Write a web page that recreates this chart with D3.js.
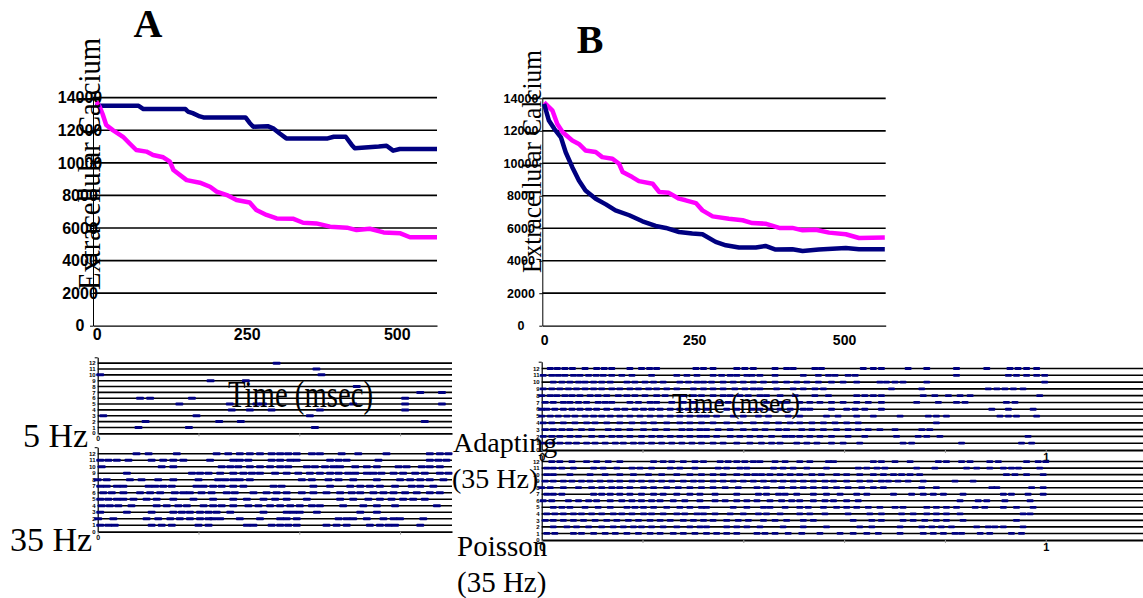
<!DOCTYPE html>
<html>
<head>
<meta charset="utf-8">
<script src="https://cdn.jsdelivr.net/npm/d3@7/dist/d3.min.js"></script>
<style>
  body { margin: 0; background: #fff; }
</style>
</head>
<body>
<div id="fig"></div>
<script>
// extracellular calcium traces (time in msec)
var yTicks = [0, 2000, 4000, 6000, 8000, 10000, 12000, 14000];
var xTicks = [0, 250, 500];

var aNavyT = [0,3,70,78,148,152,160,172,178,248,255,261,285,295,305,316,385,395,415,425,430,470,483,494,505,567];
var aNavyV = [13650,13500,13500,13300,13300,13150,13050,12850,12790,12790,12450,12220,12250,12100,11800,11500,11500,11600,11600,11100,10900,11000,11050,10750,10850,10850];
var aPinkT = [0,5,10,16,27,44,55,66,83,94,111,122,128,150,172,189,200,217,233,255,266,283,300,328,344,366,389,417,433,455,478,506,522,567];
var aPinkV = [13750,13450,13000,12320,12010,11600,11190,10790,10690,10480,10340,10070,9560,8940,8780,8530,8230,8020,7720,7570,7100,6800,6590,6560,6320,6280,6080,6020,5870,5950,5730,5670,5430,5430];

var bNavyT = [0,8,17,28,36,47,58,69,86,103,119,142,164,186,203,225,247,264,286,303,325,353,369,386,414,431,458,503,525,568];
var bNavyV = [13650,12630,12120,11600,10680,9760,8940,8330,7820,7470,7100,6800,6430,6140,6020,5770,5670,5630,5160,4950,4810,4810,4910,4690,4710,4600,4690,4790,4710,4710];
var bPinkT = [0,14,22,31,47,58,69,86,97,114,125,131,147,158,181,192,208,225,236,253,264,281,308,331,347,369,392,414,431,453,475,503,525,568];
var bPinkV = [13750,13240,12420,11910,11400,11190,10790,10690,10380,10280,9970,9460,9150,8900,8740,8230,8180,7820,7720,7550,7100,6730,6590,6490,6320,6280,6020,6020,5870,5910,5730,5630,5400,5430];

// rasters: spike times (msec), first list = neuron 1 ... last = neuron 12
var rasterRows = [0,1,2,3,4,5,6,7,8,9,10,11,12];
var rasterXTicks = [0, 200, 400, 600, 800, 1000];

var rast5Hz = [
  [81,181,431],
  [95,241,284,649],
  [11,196,421],
  [266,302,345,441,610],
  [162,262,315,328,507,610,683],
  [84,104,187,610],
  [640,683],
  [514],
  [224,294],
  [5,444],
  [434],
  [355]
];

var rast35Hz = [
  [5,21,34,107,127,147,200,220,296,309,345,362,378,395,454,474,494,540,560,577,590,640],
  [1,31,97,120,144,163,183,203,220,229,243,282,322,362,375,395,478,494,507,534,567,587,600,646],
  [5,58,107,150,167,183,203,220,236,263,329,375,388,401,435,521,554],
  [8,24,41,67,117,137,160,177,210,229,246,269,299,319,342,362,382,401,425,441,487,527,554,590,673],
  [5,21,38,51,71,97,117,150,190,229,269,296,329,352,375,415,481,507,537,560,583,606,626,649],
  [11,28,51,84,104,124,153,170,183,206,226,256,272,309,335,355,375,405,428,454,481,504,521,547,567,587,610,633,659,679],
  [5,18,38,51,101,114,130,147,196,210,229,246,269,289,349,365,428,461,501,521,540,560,590,623,640,666],
  [0,18,64,87,120,150,200,239,253,269,282,302,405,425,458,478,507,554,600,620,640,659,686],
  [58,187,203,220,243,269,289,306,322,352,375,398,421,441,461,478,497,511,534,547,563,587,606,630,649,679,696],
  [8,127,150,246,263,279,302,322,342,362,378,415,431,451,468,481,511,534,554,597,613,643,659,679],
  [5,21,38,61,107,130,150,170,223,269,282,299,345,362,382,395,461,478,494,557,659,676,692],
  [77,101,157,236,259,282,302,322,345,362,378,395,425,441,484,517,573,659,679,696]
];

var rastAdapt = [
  [3,20,36,53,69,89,106,126,146,162,182,198,218,238,258,278,298,317,340,360,387,413,436,456,473,506,526,546,575,598,631,717,734,833,952,972],
  [3,20,36,56,73,99,119,139,155,175,198,218,235,255,274,294,314,327,347,374,393,413,433,456,483,496,512,532,552,575,608,641,704,747,764,790,965],
  [7,23,40,56,79,99,132,152,175,202,225,248,278,294,314,327,350,374,400,423,443,470,486,516,536,559,585,608,628,648,671,701,754,770],
  [3,20,43,66,89,106,129,155,179,202,222,248,274,294,317,340,367,393,420,446,470,493,512,536,559,582,605,628,783],
  [0,17,33,50,66,86,103,119,136,155,175,195,215,235,255,274,294,314,327,347,380,400,430,450,489,512,565,588,625,658,711,767,783,803,909,926,942,982],
  [0,10,26,43,60,76,93,109,129,149,165,185,202,218,235,255,274,291,308,327,367,387,417,433,453,473,493,519,532,575,605,622,641,674,893,926,975],
  [7,23,43,56,73,89,112,126,139,175,192,215,228,258,281,301,354,370,446,473,486,512,532,552,575,598,625,648,674,744,787,823,840,922,939],
  [0,17,30,46,60,76,96,112,129,152,169,185,205,228,245,281,301,317,340,360,374,393,410,433,446,473,503,542,569,625,641,658,674,757,780,807,830,850,988],
  [3,20,36,53,69,86,103,119,139,155,175,192,212,228,248,268,301,321,340,360,383,403,420,433,466,499,519,542,559,694,754,886,903,919,936,955],
  [23,40,56,73,86,103,119,136,169,185,205,222,241,274,291,308,321,337,360,380,400,420,440,463,486,506,526,549,575,598,625,671,684,701,717,764,998],
  [3,20,33,46,63,76,93,108,122,139,159,179,218,268,288,308,340,357,374,387,407,417,433,463,519,549,569,582,608,622,823,926,942,962,982,998],
  [17,31,46,61,86,109,124,139,175,198,214,228,306,321,340,387,403,420,463,486,499,542,555,638,658,674,727,764,823,883,929,945,962,982]
];

var rastPoisson = [
  [10,26,63,79,103,126,146,169,192,215,235,261,281,304,327,347,367,387,427,443,463,489,516,552,592,618,645,668,711,757,777,797,820,833,870,889,932,952],
  [23,50,69,93,119,142,162,182,198,218,241,268,294,314,327,367,387,407,433,479,519,565,631,655,711,754,774,793,813,863,886,899,916,955],
  [7,23,43,63,83,106,129,149,172,192,215,235,255,281,301,321,340,367,390,410,440,463,486,519,539,618,655,674,717,737,760,783,803,836,942],
  [10,26,43,63,79,99,119,142,159,179,202,218,241,268,284,308,321,344,374,400,430,446,473,512,532,562,608,651,674,714,737,764,783,803,830,955,969],
  [23,40,56,86,112,136,169,185,202,222,248,274,294,317,327,380,407,440,453,483,512,529,559,585,605,625,648,671,701,717,764,783,803,823,860,879,916,942,975],
  [3,20,53,73,93,109,136,159,179,198,218,235,261,284,314,344,364,387,407,427,453,476,496,512,539,562,579,605,628,830,866,883,919,969],
  [10,23,40,103,119,136,155,175,198,222,241,268,294,314,344,387,430,446,470,483,506,539,565,592,625,645,698,734,757,777,797,836,916,932,965,995],
  [0,17,43,73,99,119,139,155,175,202,222,248,271,294,317,340,364,390,427,446,476,499,519,539,562,585,608,635,658,678,754,783,893,903,972,995],
  [7,23,43,60,79,96,116,136,155,179,198,218,238,258,281,301,317,340,360,380,400,420,440,460,479,499,519,539,562,579,605,631,651,674,688,707,727,757,820,856],
  [10,23,56,96,126,155,182,212,238,268,294,317,340,360,387,407,423,436,453,473,493,512,536,555,585,605,631,658,678,698,714,731,750,922,939,962,995],
  [10,23,40,63,103,122,149,179,195,218,255,274,304,350,367,393,407,460,479,499,526,565,628,645,665,681,744,780,843,863,889,916,932,946,988],
  [20,36,60,89,109,132,155,222,241,258,281,304,321,354,370,387,403,420,433,463,483,512,532,569,579,658,674,701,731,787,803,833,850,889,906,962,985,1000]
];

(function(){
	var serif = "'Liberation Serif','Times New Roman',serif";
	var sans = "'Liberation Sans',Arial,sans-serif";
	var navy = "#000080";
	var pink = "#ff00ff";

	var svg = d3.select("#fig")
		.append("svg")
		.attr("width", 1143)
		.attr("height", 598)
		.style("background", "#fff");

	function drawLines(cfg) {
		var x = d3.scaleLinear().domain(cfg.xDom).range([cfg.left, cfg.right]);
		var y = d3.scaleLinear().domain([0, 14000]).range([cfg.bottom, cfg.top]);
		var g = svg.append("g");

		g.selectAll("line.grid")
			.data(yTicks.slice(1))
			.enter().append("line")
			.attr("class", "grid")
			.attr("x1", cfg.left).attr("x2", cfg.right)
			.attr("y1", function(d){ return y(d); })
			.attr("y2", function(d){ return y(d); })
			.attr("stroke", "#000")
			.attr("stroke-width", 1.7);

		var xa = g.append("g")
			.attr("transform", "translate(0," + cfg.bottom + ")")
			.call(d3.axisBottom(x).tickValues(xTicks).tickSize(0).tickPadding(cfg.xPad).tickSizeOuter(0));
		xa.select(".domain").attr("stroke", "#000").attr("stroke-width", 1.2);
		xa.selectAll("text").style("font", "bold " + cfg.xFont + "px " + sans).attr("fill", "#000");

		var ya = g.append("g")
			.attr("transform", "translate(" + cfg.left + ",0)")
			.call(d3.axisLeft(y).tickValues(yTicks).tickSize(3).tickFormat("").tickSizeOuter(0));
		ya.select(".domain").attr("stroke", "#000");

		// y labels sit centred under the axis title
		g.selectAll("text.ylab")
			.data(yTicks)
			.enter().append("text")
			.attr("class", "ylab")
			.attr("x", cfg.labX)
			.attr("y", function(d){ return y(d); })
			.attr("dy", "0.36em")
			.attr("text-anchor", "middle")
			.style("font", "bold " + cfg.yFont + "px " + sans)
			.text(function(d){ return d; });

		var line = d3.line()
			.x(function(d){ return x(d[0]); })
			.y(function(d){ return y(d[1]); });

		cfg.series.forEach(function(s){
			g.append("path")
				.datum(d3.zip(s.t, s.v))
				.attr("d", line)
				.attr("fill", "none")
				.attr("stroke", s.color)
				.attr("stroke-width", 4.5)
				.attr("stroke-linejoin", "round");
		});
	}

	function drawRaster(cfg) {
		var x = d3.scaleLinear().domain([0, cfg.tMax]).range([cfg.left, cfg.right]);
		var y = d3.scaleLinear().domain([0, 13]).range([cfg.bottom, cfg.top]);
		var g = svg.append("g");

		g.selectAll("line.row")
			.data(rasterRows.slice(1))
			.enter().append("line")
			.attr("x1", cfg.left).attr("x2", cfg.right)
			.attr("y1", function(d){ return y(d); })
			.attr("y2", function(d){ return y(d); })
			.attr("stroke", "#000")
			.attr("stroke-width", 1.6);

		var xa = g.append("g")
			.attr("transform", "translate(0," + cfg.bottom + ")")
			.call(d3.axisBottom(x)
				.tickValues(rasterXTicks.filter(function(d){ return d <= cfg.tMax; }))
				.tickSize(3).tickSizeOuter(0).tickPadding(cfg.xPad)
				.tickFormat(function(d){ return d % 1000 === 0 ? d / 1000 : ""; }));
		xa.select(".domain").attr("stroke", "#000").attr("stroke-width", 1.8);
		xa.selectAll(".tick line").attr("stroke", "#999");
		xa.selectAll("text").style("font", "bold " + cfg.xFont + "px " + sans).attr("fill", "#000");

		var ya = g.append("g")
			.attr("transform", "translate(" + cfg.left + ",0)")
			.call(d3.axisLeft(y).tickValues([13]).tickSize(3).tickFormat("").tickSizeOuter(0));
		ya.select(".domain").attr("stroke", "#000").attr("stroke-width", 1.2);

		// neuron numbers, tiny and crowded like the original
		g.selectAll("text.rlab")
			.data(rasterRows)
			.enter().append("text")
			.attr("x", cfg.left - 2)
			.attr("y", function(d){ return y(d); })
			.attr("dy", "0.36em")
			.attr("text-anchor", "end")
			.style("font", "bold 6px " + sans)
			.text(function(d){ return d; });

		var spikes = [];
		cfg.rows.forEach(function(ts, i){
			ts.forEach(function(t){ spikes.push({ row: i + 1, t: t }); });
		});

		g.selectAll("rect.spike")
			.data(spikes)
			.enter().append("rect")
			.attr("x", function(d){ return x(d.t) - cfg.w / 2; })
			.attr("y", function(d){ return y(d.row) - cfg.h / 2; })
			.attr("width", cfg.w)
			.attr("height", cfg.h)
			.attr("rx", 1)
			.attr("fill", navy);
	}

	drawLines({
		xDom: [-6, 567], left: 93, right: 437, top: 97.7, bottom: 325.7,
		labX: 80, yFont: 16, xFont: 16, xPad: 3,
		series: [
			{ t: aNavyT, v: aNavyV, color: navy },
			{ t: aPinkT, v: aPinkV, color: pink }
		]
	});

	drawLines({
		xDom: [-3, 569.5], left: 542.3, right: 885.7, top: 98.3, bottom: 325.7,
		labX: 521, yFont: 12.5, xFont: 14, xPad: 9,
		series: [
			{ t: bPinkT, v: bPinkV, color: pink },
			{ t: bNavyT, v: bNavyV, color: navy }
		]
	});

	drawRaster({ rows: rast5Hz, tMax: 703, left: 97.7, right: 452, top: 357.3, bottom: 433.3, w: 8, h: 3, xFont: 7, xPad: 0 });
	drawRaster({ rows: rast35Hz, tMax: 703, left: 97.7, right: 452, top: 447.2, bottom: 531.7, w: 8, h: 3, xFont: 7, xPad: 0 });
	drawRaster({ rows: rastAdapt, tMax: 1193, left: 541.7, right: 1143, top: 361.7, bottom: 450, w: 7, h: 2.8, xFont: 11, xPad: 0 });
	drawRaster({ rows: rastPoisson, tMax: 1193, left: 541.7, right: 1143, top: 455, bottom: 540, w: 7, h: 2.8, xFont: 11, xPad: 0 });

	// texts on top of everything, as in the original figure
	function label(txt, x, y, size, opts) {
		opts = opts || {};
		var t = svg.append("text")
			.attr("x", x).attr("y", y)
			.style("font-family", serif)
			.style("font-size", size + "px")
			.style("font-weight", opts.bold ? "bold" : "normal")
			.attr("text-anchor", opts.anchor || "start")
			.text(txt);
		if (opts.len) t.attr("textLength", opts.len).attr("lengthAdjust", "spacingAndGlyphs");
		if (opts.rotate) t.attr("transform", "rotate(-90," + x + "," + y + ")");
		return t;
	}

	label("A", 148, 37, 40, { bold: true, anchor: "middle" });
	label("B", 590, 53, 40, { bold: true, anchor: "middle" });
	label("Extracellular Calcium", 100, 164, 32, { anchor: "middle", rotate: true, len: 252 });
	label("Extracellular Calcium", 541, 161.5, 27, { anchor: "middle", rotate: true, len: 223 });
	label("Time (msec)", 228, 407, 37, { len: 145 });
	label("Time (msec)", 672, 413, 30, { len: 128 });
	label("5 Hz", 23, 447, 34);
	label("35 Hz", 10, 551, 34);
	label("Adapting", 453, 452, 28);
	label("(35 Hz)", 452, 488, 28);
	label("Poisson", 457, 556, 29);
	label("(35 Hz)", 457, 592, 29);
})();
</script>
</body>
</html>
